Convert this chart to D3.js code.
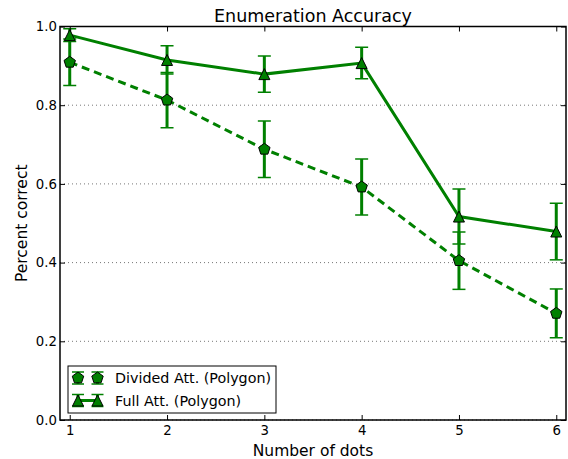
<!DOCTYPE html>
<html>
<head>
<meta charset="utf-8">
<script src="https://cdn.jsdelivr.net/npm/d3@7"></script>
<style>
  body { margin: 0; background: #fff; }
  svg { font-family: "DejaVu Sans", sans-serif; }
</style>
</head>
<body>
<div id="chart"></div>
<script>
// data
var dots = [1, 2, 3, 4, 5, 6]
var dividedMean = [0.909, 0.813, 0.688, 0.592, 0.405, 0.271]
var dividedErr = [0.059, 0.070, 0.072, 0.071, 0.073, 0.062]
var fullMean = [0.978, 0.915, 0.879, 0.907, 0.517, 0.479]
var fullErr = [0.016, 0.036, 0.046, 0.040, 0.070, 0.072]
var yTicks = [0, 0.2, 0.4, 0.6, 0.8, 1.0]

const width = 568
const height = 459
const margin = { top: 26.5, right: 2, bottom: 39, left: 60 }
const green = '#008000'

var svg = d3.select('#chart')
  .append('svg')
  .attr('width', width)
  .attr('height', height)

var x = d3.scaleLinear()
  .domain([0.9, 6.1])
  .range([margin.left, width - margin.right])

var y = d3.scaleLinear()
  .domain([0, 1])
  .range([height - margin.bottom, margin.top])

svg.append('clipPath').attr('id', 'plotclip')
  .append('rect')
  .attr('x', margin.left)
  .attr('y', margin.top)
  .attr('width', x.range()[1] - margin.left)
  .attr('height', y.range()[0] - margin.top)

// dotted grid lines
svg.append('g')
  .selectAll('line')
  .data(yTicks)
  .enter().append('line')
  .attr('x1', x.range()[0])
  .attr('x2', x.range()[1])
  .attr('y1', d => y(d))
  .attr('y2', d => y(d))
  .attr('stroke', '#777')
  .attr('stroke-width', 1)
  .attr('stroke-dasharray', '1,3')

// marker shapes (matplotlib style)
function pentagon (r) {
  var pts = d3.range(5).map(function (i) {
    var a = -Math.PI / 2 + i * 2 * Math.PI / 5
    return [r * Math.cos(a), r * Math.sin(a)]
  })
  return 'M' + pts.join('L') + 'Z'
}
function triangle (r) {
  return 'M0,' + (-r) + 'L' + (-r) + ',' + r + 'L' + r + ',' + r + 'Z'
}

var plot = svg.append('g').attr('clip-path', 'url(#plotclip)')

var series = [
  { name: 'Divided Att. (Polygon)', mean: dividedMean, err: dividedErr, dash: '8,5', marker: pentagon(6) },
  { name: 'Full Att. (Polygon)', mean: fullMean, err: fullErr, dash: null, marker: triangle(5.5) }
]

var line = d3.line()
  .x((d, i) => x(dots[i]))
  .y(d => y(d))

series.forEach(function (s) {
  // error bars
  var eb = plot.append('g')
  s.mean.forEach(function (m, i) {
    var cx = x(dots[i])
    eb.append('line')
      .attr('x1', cx).attr('x2', cx)
      .attr('y1', y(m - s.err[i])).attr('y2', y(m + s.err[i]))
      .attr('stroke', green).attr('stroke-width', 3)
    ;[m - s.err[i], m + s.err[i]].forEach(function (v) {
      eb.append('line')
        .attr('x1', cx - 6.5).attr('x2', cx + 6.5)
        .attr('y1', y(v)).attr('y2', y(v))
        .attr('stroke', green).attr('stroke-width', 1.5)
    })
  })
})

series.forEach(function (s) {
  plot.append('path')
    .attr('d', line(s.mean))
    .attr('fill', 'none')
    .attr('stroke', green)
    .attr('stroke-width', 3)
    .attr('stroke-dasharray', s.dash)
  plot.append('g')
    .selectAll('path')
    .data(s.mean)
    .enter().append('path')
    .attr('d', s.marker)
    .attr('transform', (d, i) => 'translate(' + x(dots[i]) + ',' + y(d) + ')')
    .attr('fill', green)
    .attr('stroke', '#000')
    .attr('stroke-width', 1)
})

// axes with inward ticks on all four sides
var x0 = x.range()[0]
var x1 = x.range()[1]
var y0 = y.range()[0]
var y1 = y.range()[1]

svg.append('g')
  .attr('transform', 'translate(0,' + y0 + ')')
  .call(d3.axisBottom(x).tickValues(dots).tickSize(-5).tickPadding(6).tickFormat(d3.format('d')))
  .call(g => g.select('.domain').remove())
svg.append('g')
  .attr('transform', 'translate(0,' + y1 + ')')
  .call(d3.axisTop(x).tickValues(dots).tickSize(-5).tickFormat(''))
  .call(g => g.select('.domain').remove())
svg.append('g')
  .attr('transform', 'translate(' + x0 + ',0)')
  .call(d3.axisLeft(y).tickValues(yTicks).tickSize(-5).tickPadding(3).tickFormat(d3.format('.1f')))
  .call(g => g.select('.domain').remove())
svg.append('g')
  .attr('transform', 'translate(' + x1 + ',0)')
  .call(d3.axisRight(y).tickValues(yTicks).tickSize(-5).tickFormat(''))
  .call(g => g.select('.domain').remove())

svg.selectAll('.tick line').attr('stroke', '#000').attr('stroke-width', 1)
svg.selectAll('.tick text')
  .attr('fill', '#000')
  .style('font-size', '13.3px')
  .style('font-family', '"DejaVu Sans", sans-serif')

svg.append('rect')
  .attr('x', x0).attr('y', y1)
  .attr('width', x1 - x0).attr('height', y0 - y1)
  .attr('fill', 'none').attr('stroke', '#000').attr('stroke-width', 1.5)

// labels
svg.append('text')
  .attr('x', (x0 + x1) / 2).attr('y', 21.5)
  .attr('text-anchor', 'middle')
  .style('font-size', '17.5px')
  .text('Enumeration Accuracy')
svg.append('text')
  .attr('x', (x0 + x1) / 2).attr('y', 455.5)
  .attr('text-anchor', 'middle')
  .style('font-size', '15.5px')
  .text('Number of dots')
svg.append('text')
  .attr('transform', 'translate(27,' + ((y0 + y1) / 2) + ') rotate(-90)')
  .attr('text-anchor', 'middle')
  .style('font-size', '15.5px')
  .text('Percent correct')

// legend
var legend = svg.append('g').attr('transform', 'translate(68,366)')
legend.append('rect')
  .attr('width', 208).attr('height', 47)
  .attr('fill', '#fff').attr('stroke', '#000').attr('stroke-width', 1)

series.forEach(function (s, i) {
  var row = legend.append('g').attr('transform', 'translate(0,' + (12 + i * 22.5) + ')')
  if (!s.dash) {
    row.append('line')
      .attr('x1', 10).attr('x2', 29.5)
      .attr('stroke', green).attr('stroke-width', 3)
  }
  ;[10, 29.5].forEach(function (mx) {
    row.append('line')
      .attr('x1', mx).attr('x2', mx).attr('y1', -6).attr('y2', 6)
      .attr('stroke', green).attr('stroke-width', 3)
    ;[-6, 6].forEach(function (cy) {
      row.append('line')
        .attr('x1', mx - 6).attr('x2', mx + 6).attr('y1', cy).attr('y2', cy)
        .attr('stroke', green).attr('stroke-width', 1.5)
    })
    row.append('path')
      .attr('d', s.marker)
      .attr('transform', 'translate(' + mx + ',0)')
      .attr('fill', green).attr('stroke', '#000').attr('stroke-width', 1)
  })
  row.append('text')
    .attr('x', 47).attr('y', 5)
    .style('font-size', '14.3px')
    .text(s.name)
})
</script>
</body>
</html>
